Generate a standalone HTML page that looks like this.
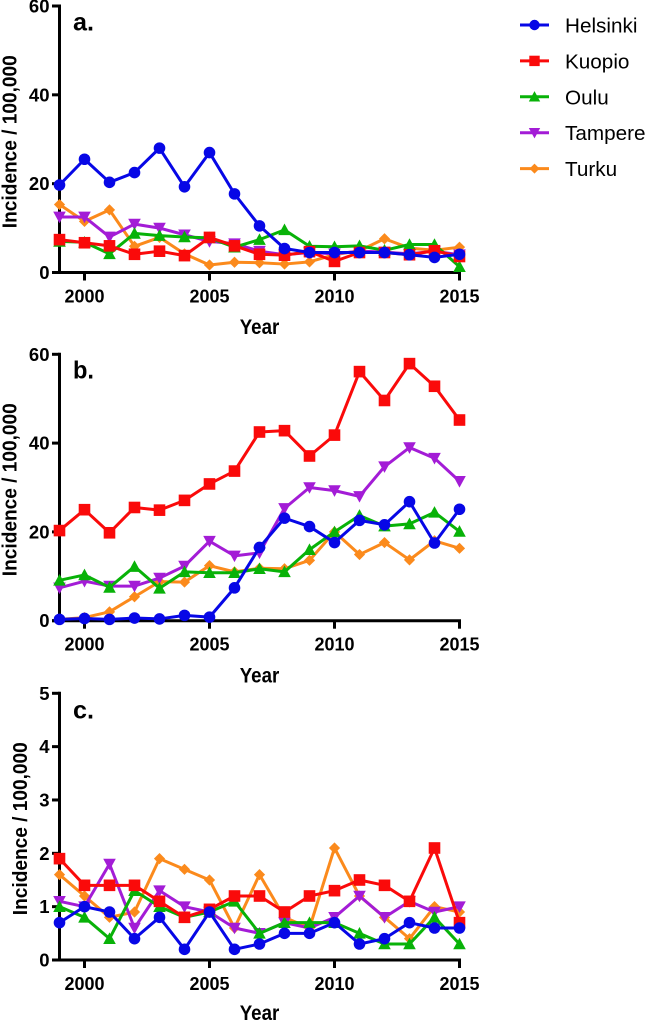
<!DOCTYPE html>
<html>
<head>
<meta charset="utf-8">
<title>Incidence charts</title>
<style>
html,body{margin:0;padding:0;background:#fff;width:649px;height:1022px;overflow:hidden}
svg{position:absolute;left:0;top:0;display:block;filter:blur(.3px)}
text{font-family:"Liberation Sans",Arial,sans-serif}
</style>
</head>
<body>
<svg id="chart" width="649" height="1022" viewBox="0 0 649 1022" xmlns="http://www.w3.org/2000/svg"></svg>
<script>
const years = [1999,2000,2001,2002,2003,2004,2005,2006,2007,2008,2009,2010,2011,2012,2013,2014,2015];
const xTicks = [2000,2005,2010,2015];
const cities = ['Turku','Tampere','Oulu','Kuopio','Helsinki'];
const legendOrder = ['Helsinki','Kuopio','Oulu','Tampere','Turku'];

const aHelsinki = [19.7,25.5,20.3,22.5,28,19.3,27,17.7,10.5,5.4,4.5,4.5,4.5,4.5,4,3.4,4.1];
const aKuopio = [7.4,6.7,6,4.1,4.8,3.8,7.9,6,4.1,3.9,4.7,2.5,4.5,4.5,4,4.9,3.6];
const aOulu = [7,6.8,4.2,8.8,8.3,8,7.8,5.7,7.4,9.6,5.9,5.8,6,5,6.3,6.3,1.3];
const aTampere = [12.5,12.5,8,10.9,10,8.5,7,6.5,4.8,4,4.5,4.2,4.8,4.6,4.2,4.8,4];
const aTurku = [15.3,11.5,14.1,5.9,7.9,4.2,1.7,2.3,2.2,1.9,2.4,4,4.9,7.6,5.5,5,5.7];
const aYTicks = [0,20,40,60];

const bHelsinki = [0.3,0.5,0.3,0.6,0.4,1.2,0.8,7.4,16.5,23.1,21.2,17.6,22.6,21.6,26.8,17.5,25.1];
const bKuopio = [20.3,25,19.8,25.5,24.9,27.1,30.8,33.7,42.5,42.8,37.1,41.8,56.1,49.6,57.9,52.8,45.2];
const bOulu = [9.1,10.3,7.5,12.2,7.3,11,10.8,10.8,11.7,11,16,20,23.7,21.3,21.8,24.4,20.1];
const bTampere = [7.4,8.9,7.8,7.8,9.6,12.3,17.9,14.6,15.3,25.3,30,29.3,28,34.7,39,36.6,31.4];
const bTurku = [0.3,0.7,2,5.4,8.8,8.7,12.4,11,11.8,11.7,13.6,20,14.9,17.6,13.7,18,16.3];
const bYTicks = [0,20,40,60];

const cHelsinki = [0.7,1,0.9,0.4,0.8,0.2,0.9,0.2,0.3,0.5,0.5,0.7,0.3,0.4,0.7,0.6,0.6];
const cKuopio = [1.9,1.4,1.4,1.4,1.1,0.8,0.95,1.2,1.2,0.9,1.2,1.3,1.5,1.4,1.1,2.1,0.7];
const cOulu = [1,0.8,0.4,1.3,1,0.8,0.9,1.1,0.5,0.7,0.7,0.7,0.5,0.3,0.3,0.8,0.3];
const cTampere = [1.1,1,1.8,0.6,1.3,1,0.9,0.6,0.5,0.7,0.6,0.8,1.2,0.8,1.1,0.9,1];
const cTurku = [1.6,1.2,0.8,0.9,1.9,1.7,1.5,0.6,1.6,0.8,0.6,2.1,1.2,0.8,0.4,1,0.9];
const cYTicks = [0,1,2,3,4,5];

const NS = 'http://www.w3.org/2000/svg';
const root = document.getElementById('chart');
const colors = {Helsinki:'#0707e6',Kuopio:'#fa0a0a',Oulu:'#08b208',Tampere:'#a31cd6',Turku:'#fb8a1c'};

function make(tag, attrs, parent) {
  const n = document.createElementNS(NS, tag);
  for (const k in attrs) n.setAttribute(k, attrs[k]);
  parent.appendChild(n);
  return n;
}
function slug(s) { return s.toLowerCase(); }

function drawMarker(parent, city, x, y, s) {
  const c = colors[city];
  let m;
  if (city === 'Helsinki') {
    m = make('circle', {cx:x, cy:y, r:s, fill:c}, parent);
  } else if (city === 'Kuopio') {
    m = make('rect', {x:x-s, y:y-s, width:2*s, height:2*s, fill:c}, parent);
  } else if (city === 'Oulu') {
    m = make('polygon', {points:[x,y-s-0.5, x+s+0.5,y+s-0.5, x-s-0.5,y+s-0.5].join(' '), fill:c}, parent);
  } else if (city === 'Tampere') {
    m = make('polygon', {points:[x-s-0.5,y-s+0.5, x+s+0.5,y-s+0.5, x,y+s+0.5].join(' '), fill:c}, parent);
  } else {
    m = make('polygon', {points:[x,y-s, x+s,y, x,y+s, x-s,y].join(' '), fill:c}, parent);
  }
  return m;
}

function drawPanel(cfg) {
  const g = make('g', {}, root);
  
  
  const xScale = v => 59.5 + (v - 1999) * 25;
  const yScale = v => cfg.y0 + (cfg.yTop - cfg.y0) * v / cfg.yMax;

  const yAxis = make('line', {x1:59.5, x2:59.5, y1:yScale(cfg.yMax)-1.5, y2:cfg.y0+1.5, stroke:'#000', 'stroke-width':3}, g);
  
  
  const xAxis = make('line', {x1:52, x2:xScale(2015)+1.5, y1:cfg.y0, y2:cfg.y0, stroke:'#000', 'stroke-width':3}, g);
  
  

  cfg.yTicks.forEach(t => {
    const tick = make('line', {x1:52, x2:59.5, y1:yScale(t), y2:yScale(t), stroke:'#000', 'stroke-width':3}, g);
    
    
    const label = make('text', {x:49.5, y:yScale(t)+6.5, 'text-anchor':'end', 'font-size':18.5, 'font-weight':'bold', fill:'#000'}, g);
    
    
    label.textContent = t;
  });
  xTicks.forEach(t => {
    const tick = make('line', {x1:xScale(t), x2:xScale(t), y1:cfg.y0, y2:cfg.y0+8, stroke:'#000', 'stroke-width':3}, g);
    
    
    const label = make('text', {x:xScale(t), y:cfg.y0+30, 'text-anchor':'middle', 'font-size':18.5, 'font-weight':'bold', fill:'#000', textLength:40, lengthAdjust:'spacingAndGlyphs'}, g);
    
    
    label.textContent = t;
  });

  cities.forEach(city => {
    const values = cfg.series[city];
    const sg = make('g', {}, g);
    
    
    const pts = values.map((v, i) => xScale(years[i]) + ',' + yScale(v)).join(' ');
    const line = make('polyline', {points:pts, fill:'none', stroke:colors[city], 'stroke-width':3, 'stroke-linejoin':'round'}, sg);
    
    
    values.forEach((v, i) => {
      const m = drawMarker(sg, city, xScale(years[i]), yScale(v), city === 'Turku' ? 5.6 : 5.8);
      
      
    });
  });

  const title = make('text', {transform:'translate(' + cfg.titleX + ' ' + cfg.titleY + ') rotate(-90)', 'text-anchor':'middle', 'font-size':20.5, 'font-weight':'bold', fill:'#000', textLength:173, lengthAdjust:'spacingAndGlyphs'}, g);
  
  
  title.textContent = 'Incidence / 100,000';

  const xTitle = make('text', {x:259.5, y:cfg.y0+cfg.yearDy, 'text-anchor':'middle', 'font-size':21.5, 'font-weight':'bold', fill:'#000', textLength:39.5, lengthAdjust:'spacingAndGlyphs'}, g);
  
  
  xTitle.textContent = 'Year';

  const letter = make('text', {x:73, y:cfg.letterY, 'font-size':25, 'font-weight':'bold', fill:'#000', textLength:21, lengthAdjust:'spacingAndGlyphs'}, g);
  
  
  letter.textContent = cfg.letter + '.';
}

drawPanel({letter:'a', y0:272.5, yTop:6, yMax:60, yTicks:aYTicks, titleX:16.5, titleY:141.7, letterY:30.5, yearDy:61.7,
  series:{Helsinki:aHelsinki,Kuopio:aKuopio,Oulu:aOulu,Tampere:aTampere,Turku:aTurku}});
drawPanel({letter:'b', y0:620.7, yTop:354.3, yMax:60, yTicks:bYTicks, titleX:16.5, titleY:489.7, letterY:378.3, yearDy:61.6,
  series:{Helsinki:bHelsinki,Kuopio:bKuopio,Oulu:bOulu,Tampere:bTampere,Turku:bTurku}});
drawPanel({letter:'c', y0:960, yTop:693.3, yMax:5, yTicks:cYTicks, titleX:27, titleY:828.7, letterY:718.3, yearDy:60.2,
  series:{Helsinki:cHelsinki,Kuopio:cKuopio,Oulu:cOulu,Tampere:cTampere,Turku:cTurku}});

const legend = make('g', {}, root);


legendOrder.forEach((city, i) => {
  const y = 25 + i * 35.9;
  const entry = make('g', {}, legend);
  
  
  const ln = make('line', {x1:520, x2:549, y1:y, y2:y, stroke:colors[city], 'stroke-width':3}, entry);
  
  
  const m = drawMarker(entry, city, 534.5, y, city === 'Turku' ? 5 : 5.2);
  
  
  const t = make('text', {x:565, y:y+7.5, 'font-size':20.7, fill:'#000'}, entry);
  
  
  t.textContent = city;
});
</script>
</body>
</html>
